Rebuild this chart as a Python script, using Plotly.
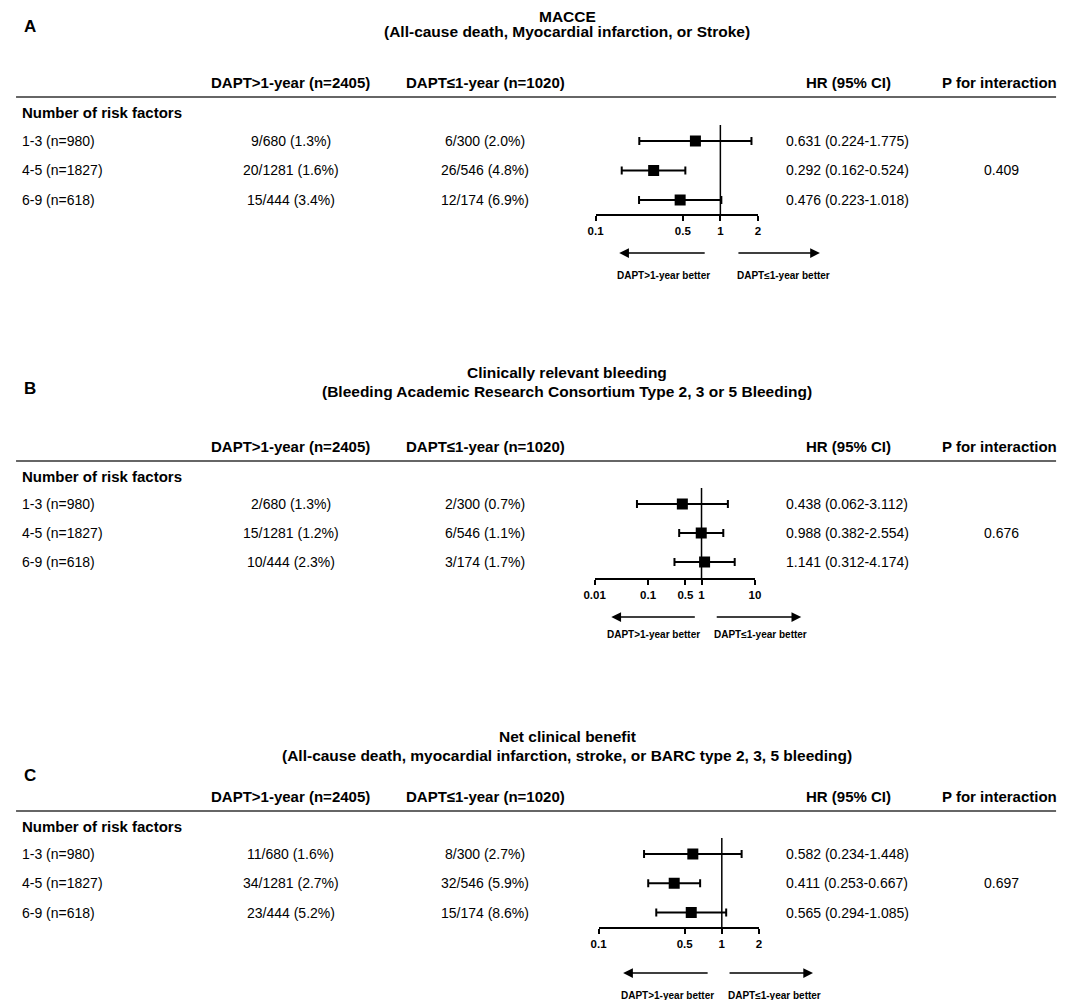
import numpy as np
import plotly.graph_objects as go

# ---- data ----
groups = ["1-3 (n=980)", "4-5 (n=1827)", "6-9 (n=618)"]
col_headers = ["DAPT>1-year (n=2405)", "DAPT≤1-year (n=1020)", "HR (95% CI)", "P for interaction"]

macce_long = ["9/680 (1.3%)", "20/1281 (1.6%)", "15/444 (3.4%)"]
macce_short = ["6/300 (2.0%)", "26/546 (4.8%)", "12/174 (6.9%)"]
macce_hr = [0.631, 0.292, 0.476]
macce_lo = [0.224, 0.162, 0.223]
macce_hi = [1.775, 0.524, 1.018]
macce_p = "0.409"
macce_ticks = [0.1, 0.5, 1, 2]

bleed_long = ["2/680 (1.3%)", "15/1281 (1.2%)", "10/444 (2.3%)"]
bleed_short = ["2/300 (0.7%)", "6/546 (1.1%)", "3/174 (1.7%)"]
bleed_hr = [0.438, 0.988, 1.141]
bleed_lo = [0.062, 0.382, 0.312]
bleed_hi = [3.112, 2.554, 4.174]
bleed_p = "0.676"
bleed_ticks = [0.01, 0.1, 0.5, 1, 10]

ncb_long = ["11/680 (1.6%)", "34/1281 (2.7%)", "23/444 (5.2%)"]
ncb_short = ["8/300 (2.7%)", "32/546 (5.9%)", "15/174 (8.6%)"]
ncb_hr = [0.582, 0.411, 0.565]
ncb_lo = [0.234, 0.253, 0.294]
ncb_hi = [1.448, 0.667, 1.085]
ncb_p = "0.697"
ncb_ticks = [0.1, 0.5, 1, 2]

ref_hr = 1

# page body has an 8px margin, so the figure is sized to fit the window
OFF = 8
W, H = 1074 - 2 * OFF, 1008 - 2 * OFF
FONT = "Liberation Sans, Arial, sans-serif"

def px(x):
    # screen x -> paper
    return (x - OFF) / W

def py(y):
    # screen y -> paper
    return 1 - (y - OFF) / H

panels = [
    dict(letter="A", title="MACCE",
         sub="(All-cause death, Myocardial infarction, or Stroke)",
         long=macce_long, short=macce_short, hr=macce_hr, lo=macce_lo, hi=macce_hi,
         p=macce_p, ticks=macce_ticks,
         t=17, s=31, letter_y=26, head=83, rule=97, row1=141, sp=29.5, top=125, axis=214,
         ax_l=594, ax_r=759, arr_y=253, lab_y=275, arr=(705, 618, 739, 822), lab=(663, 785)),
    dict(letter="B", title="Clinically relevant bleeding",
         sub="(Bleeding Academic Research Consortium Type 2, 3 or 5 Bleeding)",
         long=bleed_long, short=bleed_short, hr=bleed_hr, lo=bleed_lo, hi=bleed_hi,
         p=bleed_p, ticks=bleed_ticks,
         t=372, s=391, letter_y=389, head=446, rule=461, row1=504, sp=29, top=488, axis=578,
         ax_l=593, ax_r=756, arr_y=617, lab_y=634, arr=(695, 610, 717, 803), lab=(653, 762)),
    dict(letter="C", title="Net clinical benefit",
         sub="(All-cause death, myocardial infarction, stroke, or BARC type 2, 3, 5 bleeding)",
         long=ncb_long, short=ncb_short, hr=ncb_hr, lo=ncb_lo, hi=ncb_hi,
         p=ncb_p, ticks=ncb_ticks,
         t=736, s=755, letter_y=775, head=796, rule=811, row1=854, sp=29.25, top=838, axis=927,
         ax_l=597, ax_r=760, arr_y=973, lab_y=995, arr=(708, 622, 730, 815), lab=(667, 776)),
]

COL_X = [284, 482, 851, 1005]
TITLE_X = 565

fig = go.Figure()
annotations = []
shapes = []
layout_axes = {}

for i, pn in enumerate(panels):
    n = i + 1
    xa = "x" if n == 1 else f"x{n}"
    ya = "y" if n == 1 else f"y{n}"
    rows = np.arange(1, len(groups) + 1)
    hr = np.array(pn["hr"])
    lo = np.array(pn["lo"])
    hi = np.array(pn["hi"])

    fig.add_trace(go.Scatter(
        x=hr, y=rows, xaxis=xa, yaxis=ya, mode="markers",
        marker=dict(symbol="square", size=11, color="black"),
        error_x=dict(type="data", symmetric=False, array=hi - hr, arrayminus=hr - lo,
                     color="black", thickness=2, width=4),
        showlegend=False, hoverinfo="skip", cliponaxis=False))

    ticks = pn["ticks"]
    y_bot = 1 + (pn["axis"] - pn["row1"]) / pn["sp"]
    y_top = 1 - (pn["row1"] - pn["top"]) / pn["sp"]
    layout_axes["xaxis" if n == 1 else f"xaxis{n}"] = dict(
        type="log", range=[np.log10(ticks[0]), np.log10(ticks[-1])],
        domain=[px(pn["ax_l"]), px(pn["ax_r"])], anchor=ya,
        showline=True, linecolor="black", linewidth=2, mirror=False,
        ticks="outside", ticklen=5, tickwidth=2, tickcolor="black",
        tickvals=ticks, ticktext=[f"<b>{t:g}</b>" for t in ticks],
        tickfont=dict(size=11.5, color="black", family=FONT),
        showgrid=False, zeroline=False, fixedrange=True)
    layout_axes["yaxis" if n == 1 else f"yaxis{n}"] = dict(
        range=[y_bot, y_top], domain=[py(pn["axis"]), py(pn["top"])], anchor=xa,
        visible=False, fixedrange=True)

    # reference line at HR = 1
    shapes.append(dict(type="line", xref=xa, yref=f"{ya} domain", x0=ref_hr, x1=ref_hr,
                       y0=0, y1=1, line=dict(color="black", width=1.5)))
    # header rule
    shapes.append(dict(type="line", xref="paper", yref="paper", x0=px(5), x1=px(1062),
                       y0=py(pn["rule"]), y1=py(pn["rule"]),
                       line=dict(color="#333", width=1.5)))

    # titles
    annotations.append(dict(text=f"<b>{pn['title']}</b>", x=px(TITLE_X), y=py(pn["t"]),
                            xref="paper", yref="paper", showarrow=False, borderpad=0,
                            font=dict(size=15.5), xanchor="center", yanchor="middle"))
    annotations.append(dict(text=f"<b>{pn['sub']}</b>", x=px(TITLE_X), y=py(pn["s"]),
                            xref="paper", yref="paper", showarrow=False, borderpad=0,
                            font=dict(size=15.5), xanchor="center", yanchor="middle"))
    annotations.append(dict(text=f"<b>{pn['letter']}</b>", x=px(11), y=py(pn["letter_y"]),
                            xref="paper", yref="paper", showarrow=False,
                            font=dict(size=17), xanchor="left", yanchor="middle"))
    # column headers
    for cx, h in zip(COL_X, col_headers):
        annotations.append(dict(text=f"<b>{h}</b>", x=px(cx), y=py(pn["head"]),
                                xref="paper", yref="paper", showarrow=False,
                                font=dict(size=15), xanchor="center", yanchor="middle"))
    annotations.append(dict(text="<b>Number of risk factors</b>", x=px(9),
                            y=py(pn["rule"] + 15), xref="paper", yref="paper",
                            showarrow=False, font=dict(size=15), xanchor="left",
                            yanchor="middle"))
    # table rows
    for r, g, a, b, h, l, u in zip(rows, groups, pn["long"], pn["short"], hr, lo, hi):
        annotations.append(dict(text=g, x=px(9), y=r, xref="paper", yref=ya,
                                showarrow=False, xanchor="left", yanchor="middle"))
        annotations.append(dict(text=a, x=px(COL_X[0]), y=r, xref="paper", yref=ya,
                                showarrow=False, xanchor="center", yanchor="middle"))
        annotations.append(dict(text=b, x=px(COL_X[1]), y=r, xref="paper", yref=ya,
                                showarrow=False, xanchor="center", yanchor="middle"))
        annotations.append(dict(text=f"{h:.3f} ({l:.3f}-{u:.3f})", x=px(850), y=r,
                                xref="paper", yref=ya, showarrow=False,
                                xanchor="center", yanchor="middle"))
    annotations.append(dict(text=pn["p"], x=px(1007), y=rows[1], xref="paper",
                            yref=ya, showarrow=False, xanchor="center", yanchor="middle"))

    # direction arrows
    l_tail, l_head, r_tail, r_head = pn["arr"]
    for tail, headx in [(l_tail, l_head), (r_tail, r_head)]:
        annotations.append(dict(text="", x=px(headx), y=py(pn["arr_y"]), xref="paper",
                                yref="paper", showarrow=True, ax=tail - headx, ay=0,
                                arrowhead=2, arrowsize=1.3, arrowwidth=1.5,
                                arrowcolor="black"))
    for cx, lab in zip(pn["lab"], ["DAPT>1-year better", "DAPT≤1-year better"]):
        annotations.append(dict(text=f"<b>{lab}</b>", x=px(cx), y=py(pn["lab_y"]),
                                xref="paper", yref="paper", showarrow=False,
                                font=dict(size=10), xanchor="center", yanchor="middle"))

fig.update_layout(
    width=W, height=H, margin=dict(l=0, r=0, t=0, b=0),
    paper_bgcolor="white", plot_bgcolor="white",
    font=dict(family=FONT, size=14, color="black"),
    annotations=annotations, shapes=shapes, **layout_axes)

fig.write_html("out.html")
